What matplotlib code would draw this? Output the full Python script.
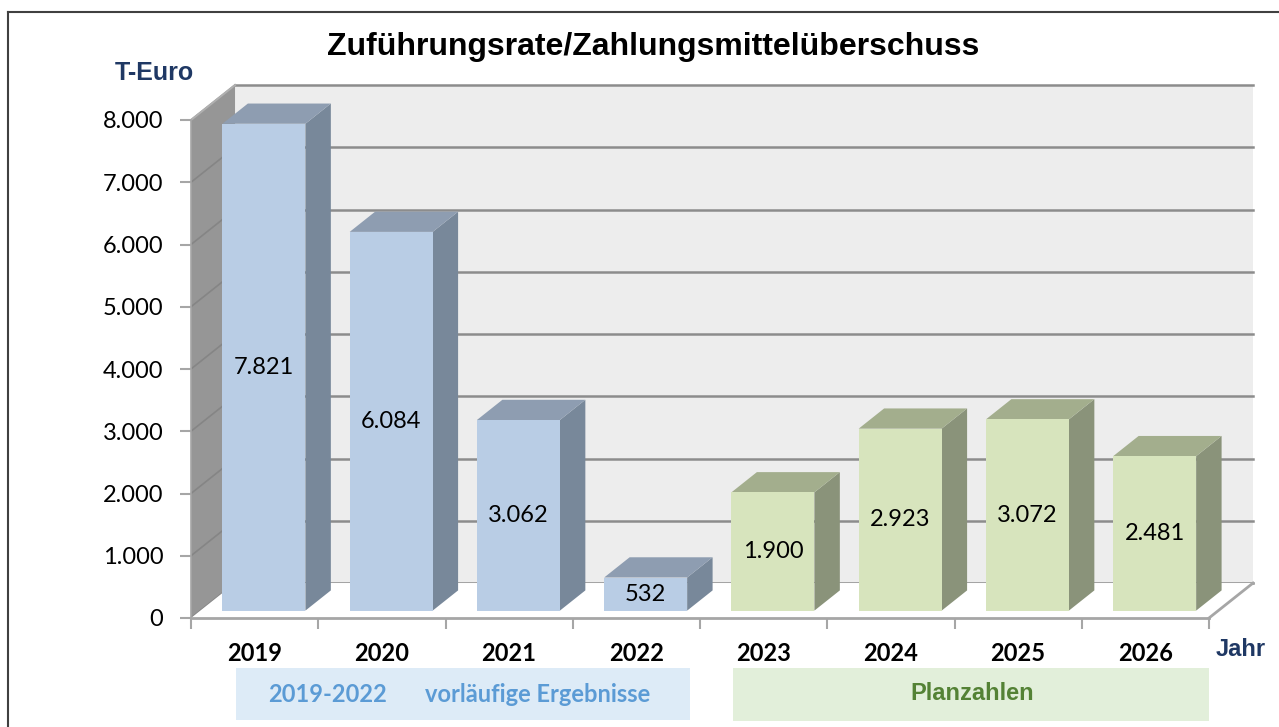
import matplotlib.pyplot as plt
from matplotlib.patches import Polygon, Rectangle
from matplotlib.lines import Line2D

# DATA
years = ['2019', '2020', '2021', '2022', '2023', '2024', '2025', '2026']
values = [7821, 6084, 3062, 532, 1900, 2923, 3072, 2481]
value_labels = ['7.821', '6.084', '3.062', '532', '1.900', '2.923', '3.072', '2.481']
yticks = [0, 1000, 2000, 3000, 4000, 5000, 6000, 7000, 8000]
ytick_labels = ['0', '1.000', '2.000', '3.000', '4.000', '5.000', '6.000', '7.000', '8.000']
n_actual = 4  # 2019-2022 vorlaeufige Ergebnisse, rest Planzahlen

W, H = 1279, 727
fig = plt.figure(figsize=(W / 100, H / 100), dpi=100)
ax = fig.add_axes([191 / W, 1 - 618 / H, (1209 - 191) / W, (618 - 120) / H])
ax.set_xlim(-0.5, len(years) - 0.5)
ax.set_ylim(0, max(yticks))
ax.patch.set_visible(False)

# pseudo 3d depth (full depth of the chart box) in data units
DX = 0.346
DY = 562
d0, d1 = 0.211, 0.789       # bars sit in the middle of the depth
bw = 0.652

x0, x1 = -0.5, len(years) - 0.5
top = max(yticks)
grid_col = '#8C8C8C'

# back wall + grid
ax.add_patch(Rectangle((x0 + DX, DY), x1 - x0, top, facecolor='#EDEDED',
                       edgecolor='none', zorder=0.5, clip_on=False))
for t in yticks:
    ax.add_line(Line2D([x0 + DX, x1 + DX], [t + DY, t + DY], color=grid_col,
                       lw=1.8, zorder=0.6, clip_on=False))
# left wall
ax.add_patch(Polygon([(x0, 0), (x0 + DX, DY), (x0 + DX, top + DY), (x0, top)],
                     closed=True, facecolor='#969696', edgecolor='none',
                     zorder=0.7, clip_on=False))
for t in yticks:
    ax.add_line(Line2D([x0, x0 + DX], [t, t + DY], color='#858585', lw=1.2,
                       zorder=0.8, clip_on=False))
ax.add_line(Line2D([x0, x0 + DX], [top, top + DY], color='#B0B0B0', lw=1.5,
                   zorder=0.8, clip_on=False))
# floor
ax.add_patch(Polygon([(x0, 0), (x1, 0), (x1 + DX, DY), (x0 + DX, DY)], closed=True,
                     facecolor='white', edgecolor='none', zorder=0.9, clip_on=False))
ax.add_line(Line2D([x1, x1 + DX], [0, DY], color='#A6A6A6', lw=2,
                   zorder=0.95, clip_on=False))

# bars
cols = []
for i in range(len(years)):
    if i < n_actual:
        cols.append(('#B9CDE5', '#8E9DB1', '#78889A'))
    else:
        cols.append(('#D7E4BD', '#A3AE8D', '#8A937A'))

xs = [i + d0 * DX for i in range(len(years))]
bars = ax.bar(xs, values, width=bw, bottom=d0 * DY, color=[c[0] for c in cols],
              edgecolor='none', zorder=3, clip_on=False)
dd = d1 - d0
for i, b in enumerate(bars):
    xl = b.get_x()
    xr = xl + b.get_width()
    yb = b.get_y()
    yt = yb + b.get_height()
    ax.add_patch(Polygon([(xr, yb), (xr + dd * DX, yb + dd * DY),
                          (xr + dd * DX, yt + dd * DY), (xr, yt)], closed=True,
                         facecolor=cols[i][2], edgecolor='none', zorder=2.9, clip_on=False))
    ax.add_patch(Polygon([(xl, yt), (xr, yt), (xr + dd * DX, yt + dd * DY),
                          (xl + dd * DX, yt + dd * DY)], closed=True,
                         facecolor=cols[i][1], edgecolor='none', zorder=2.9, clip_on=False))
    ax.text(xl + b.get_width() / 2, yb + b.get_height() / 2, value_labels[i],
            ha='center', va='center', fontsize=17, family='Lato', color='black', zorder=5)

# axes
for s in ['top', 'right']:
    ax.spines[s].set_visible(False)
ax.spines['left'].set_color('#A6A6A6')
ax.spines['left'].set_linewidth(1.2)
ax.spines['bottom'].set_color('#A6A6A6')
ax.spines['bottom'].set_linewidth(2)
ax.spines['bottom'].set_zorder(1)
ax.spines['left'].set_zorder(1)

ax.set_yticks(yticks)
ax.set_yticklabels(ytick_labels, family='Lato', fontsize=17)
ax.tick_params(axis='y', direction='out', length=8, width=1.5, color='#A6A6A6', pad=12)

ax.set_xticks([i - 0.5 for i in range(len(years) + 1)])
ax.set_xticklabels([])
ax.tick_params(axis='x', which='major', direction='out', length=8, width=1.5, color='#A6A6A6')
ax.set_xticks(range(len(years)), minor=True)
ax.set_xticklabels(years, minor=True, family='Lato', fontweight='bold', fontsize=17)
ax.tick_params(axis='x', which='minor', length=0, pad=17)

# texts
fig.text(653 / W, 1 - 47 / H, 'Zuführungsrate/Zahlungsmittelüberschuss', ha='center',
         va='center', family='Liberation Sans', fontweight='bold', fontsize=23)
fig.text(154 / W, 1 - 73 / H, 'T-Euro', ha='center', va='center', family='Liberation Sans',
         fontweight='bold', fontsize=18, color='#1F3864')
fig.text(1241 / W, 1 - 650 / H, 'Jahr', ha='center', va='center', family='Liberation Sans',
         fontweight='bold', fontsize=17, color='#1F3864')

# category boxes
fig.add_artist(Rectangle((236 / W, 1 - 720 / H), (690 - 236) / W, 52 / H,
                         transform=fig.transFigure, facecolor='#DDEBF7', edgecolor='none'))
fig.add_artist(Rectangle((733 / W, 1 - 721 / H), (1209 - 733) / W, 53 / H,
                         transform=fig.transFigure, facecolor='#E2EFDA', edgecolor='none'))
fig.text(328 / W, 1 - 694 / H, '2019-2022', ha='center', va='center', family='Lato',
         fontweight='bold', fontsize=17, color='#5B9BD5')
fig.text(538 / W, 1 - 694 / H, 'vorläufige Ergebnisse', ha='center', va='center', family='Lato',
         fontweight='bold', fontsize=17, color='#5B9BD5')
fig.text(972 / W, 1 - 694 / H, 'Planzahlen', ha='center', va='center', family='Liberation Sans',
         fontweight='bold', fontsize=17, color='#548235')

# outer frame
fig.add_artist(Line2D([8 / W, 8 / W], [0, 1 - 12 / H], transform=fig.transFigure,
                      color='#404040', lw=1.5))
fig.add_artist(Line2D([8 / W, 1], [1 - 12 / H, 1 - 12 / H], transform=fig.transFigure,
                      color='#404040', lw=1.5))

fig.savefig('out.png', dpi=100)
